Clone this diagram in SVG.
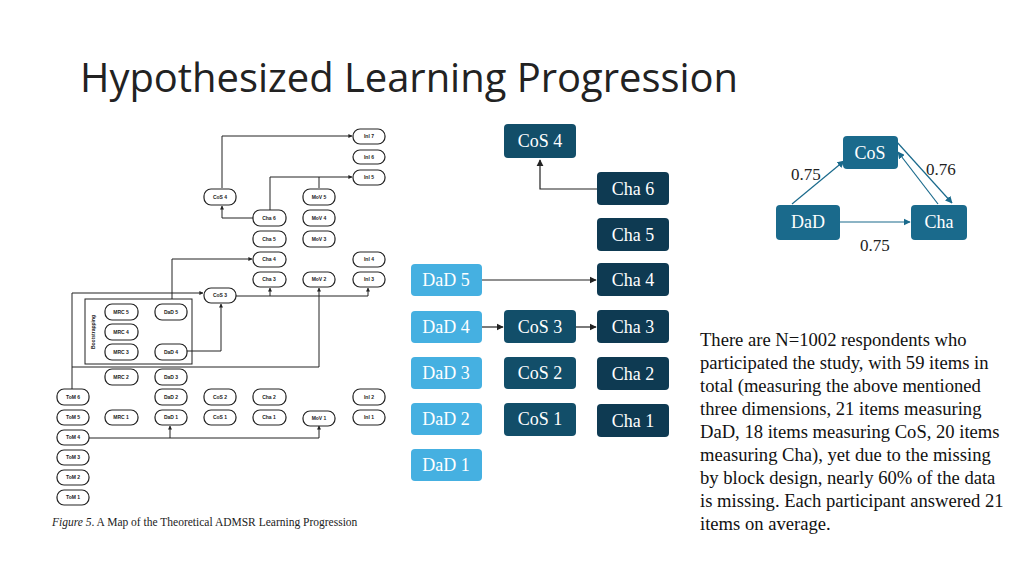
<svg xmlns="http://www.w3.org/2000/svg" width="1024" height="576" viewBox="0 0 1024 576">
<defs>
<style>
.t{font-family:"Liberation Serif",serif;fill:#fff;font-size:18px;text-anchor:middle}
.s{font-family:"Liberation Sans",sans-serif;font-size:5px;font-weight:bold;text-anchor:middle;fill:#222}
.sb rect{fill:#fff;stroke:#222;stroke-width:1.2}
.ln{fill:none;stroke:#222;stroke-width:1}
.bl{fill:none;stroke:#222;stroke-width:1.2}
.tl{fill:none;stroke:#1a6a8c;stroke-width:1.2}
.dad{fill:#45b0e1}.cos{fill:#124e69}.cha{fill:#0e3a52}.tri{fill:#1a6a8c}
</style>
<marker id="a" viewBox="0 0 10 10" refX="9" refY="5" markerWidth="6" markerHeight="6" orient="auto"><path d="M0,0L10,5L0,10z" fill="#222"/></marker>
<marker id="b" viewBox="0 0 10 10" refX="9" refY="5" markerWidth="4" markerHeight="4" orient="auto"><path d="M0,0L10,5L0,10z" fill="#222"/></marker>
<marker id="c" viewBox="0 0 10 10" refX="9" refY="5" markerWidth="6" markerHeight="6" orient="auto"><path d="M0,0L10,5L0,10z" fill="#1a6a8c"/></marker>
</defs>
<rect width="1024" height="576" fill="#fff"/>
<text x="80" y="92" font-family="Open Sans, sans-serif" font-size="40" fill="#222" textLength="658" lengthAdjust="spacingAndGlyphs">Hypothesized Learning Progression</text>

<g id="left-figure">
<g id="left-connectors">
<path class="ln" d="M222,188V136H352" marker-end="url(#b)"/>
<path class="ln" d="M253,218H222V206" marker-end="url(#b)"/>
<path class="ln" d="M270,210V177H352" marker-end="url(#b)"/>
<path class="ln" d="M319,188V177"/>
<path class="ln" d="M172,299V259H252" marker-end="url(#b)"/>
<path class="ln" d="M236,296H368V288" marker-end="url(#b)"/>
<path class="ln" d="M270,296V288" marker-end="url(#b)"/>
<path class="ln" d="M72,389V293H203" marker-end="url(#b)"/>
<path class="ln" d="M187,351H221V304" marker-end="url(#b)"/>
<path class="ln" d="M72,367H319V288" marker-end="url(#b)"/>
<path class="ln" d="M89,438H319V426" marker-end="url(#b)"/>
<path class="ln" d="M170,438V426" marker-end="url(#b)"/>
</g>
<rect x="85" y="299" width="107" height="65" fill="none" stroke="#222" stroke-width="1"/>
<text transform="translate(95,332) rotate(-90)" class="s" font-size="4.5">Bootstrapping</text>
<g class="sb">
<g id="l-inl7"><rect x="353" y="129" width="32" height="15" rx="7"/><text class="s" x="369" y="138">Inl 7</text></g>
<g id="l-inl6"><rect x="353" y="150" width="32" height="14" rx="7"/><text class="s" x="369" y="159">Inl 6</text></g>
<g id="l-inl5"><rect x="353" y="170" width="32" height="15" rx="7"/><text class="s" x="369" y="179">Inl 5</text></g>
<g id="l-cos4"><rect x="204" y="189" width="32" height="16" rx="7"/><text class="s" x="220" y="199">CoS 4</text></g>
<g id="l-mov5"><rect x="303" y="189" width="32" height="16" rx="7"/><text class="s" x="319" y="199">MoV 5</text></g>
<g id="l-cha6"><rect x="253" y="210" width="33" height="16" rx="7"/><text class="s" x="269" y="220">Cha 6</text></g>
<g id="l-mov4"><rect x="303" y="210" width="32" height="16" rx="7"/><text class="s" x="319" y="220">MoV 4</text></g>
<g id="l-cha5"><rect x="253" y="231" width="33" height="16" rx="7"/><text class="s" x="269" y="241">Cha 5</text></g>
<g id="l-mov3"><rect x="303" y="231" width="32" height="16" rx="7"/><text class="s" x="319" y="241">MoV 3</text></g>
<g id="l-cha4"><rect x="253" y="252" width="33" height="15" rx="7"/><text class="s" x="269" y="261">Cha 4</text></g>
<g id="l-inl4"><rect x="353" y="252" width="32" height="15" rx="7"/><text class="s" x="369" y="261">Inl 4</text></g>
<g id="l-cha3"><rect x="253" y="272" width="33" height="15" rx="7"/><text class="s" x="269" y="281">Cha 3</text></g>
<g id="l-mov2"><rect x="303" y="272" width="32" height="15" rx="7"/><text class="s" x="319" y="281">MoV 2</text></g>
<g id="l-inl3"><rect x="353" y="272" width="32" height="15" rx="7"/><text class="s" x="369" y="281">Inl 3</text></g>
<g id="l-cos3"><rect x="204" y="288" width="32" height="15" rx="7"/><text class="s" x="220" y="297">CoS 3</text></g>
<g id="l-mrc5"><rect x="105" y="304" width="33" height="16" rx="7"/><text class="s" x="121" y="314">MRC 5</text></g>
<g id="l-dad5"><rect x="155" y="304" width="32" height="16" rx="7"/><text class="s" x="171" y="314">DaD 5</text></g>
<g id="l-mrc4"><rect x="105" y="324" width="33" height="16" rx="7"/><text class="s" x="121" y="334">MRC 4</text></g>
<g id="l-mrc3"><rect x="105" y="344" width="33" height="16" rx="7"/><text class="s" x="121" y="354">MRC 3</text></g>
<g id="l-dad4"><rect x="155" y="344" width="32" height="16" rx="7"/><text class="s" x="171" y="354">DaD 4</text></g>
<g id="l-mrc2"><rect x="105" y="369" width="33" height="16" rx="7"/><text class="s" x="121" y="379">MRC 2</text></g>
<g id="l-dad3"><rect x="155" y="369" width="32" height="16" rx="7"/><text class="s" x="171" y="379">DaD 3</text></g>
<g id="l-tom6"><rect x="57" y="389" width="32" height="16" rx="7"/><text class="s" x="73" y="399">ToM 6</text></g>
<g id="l-dad2"><rect x="155" y="389" width="32" height="16" rx="7"/><text class="s" x="171" y="399">DaD 2</text></g>
<g id="l-cos2"><rect x="204" y="389" width="32" height="16" rx="7"/><text class="s" x="220" y="399">CoS 2</text></g>
<g id="l-cha2"><rect x="253" y="389" width="33" height="16" rx="7"/><text class="s" x="269" y="399">Cha 2</text></g>
<g id="l-inl2"><rect x="353" y="389" width="32" height="16" rx="7"/><text class="s" x="369" y="399">Inl 2</text></g>
<g id="l-tom5"><rect x="57" y="410" width="32" height="15" rx="7"/><text class="s" x="73" y="419">ToM 5</text></g>
<g id="l-mrc1"><rect x="105" y="410" width="33" height="15" rx="7"/><text class="s" x="121" y="419">MRC 1</text></g>
<g id="l-dad1"><rect x="155" y="410" width="32" height="15" rx="7"/><text class="s" x="171" y="419">DaD 1</text></g>
<g id="l-cos1"><rect x="204" y="410" width="32" height="15" rx="7"/><text class="s" x="220" y="419">CoS 1</text></g>
<g id="l-cha1"><rect x="253" y="410" width="33" height="15" rx="7"/><text class="s" x="269" y="419">Cha 1</text></g>
<g id="l-mov1"><rect x="303" y="411" width="32" height="15" rx="7"/><text class="s" x="319" y="420">MoV 1</text></g>
<g id="l-inl1"><rect x="353" y="410" width="32" height="15" rx="7"/><text class="s" x="369" y="419">Inl 1</text></g>
<g id="l-tom4"><rect x="57" y="430" width="32" height="15" rx="7"/><text class="s" x="73" y="439">ToM 4</text></g>
<g id="l-tom3"><rect x="57" y="450" width="32" height="15" rx="7"/><text class="s" x="73" y="459">ToM 3</text></g>
<g id="l-tom2"><rect x="57" y="470" width="32" height="15" rx="7"/><text class="s" x="73" y="479">ToM 2</text></g>
<g id="l-tom1"><rect x="57" y="490" width="32" height="15" rx="7"/><text class="s" x="73" y="499">ToM 1</text></g>
</g>
<text x="52" y="526" font-family="Liberation Serif, serif" font-size="11.5" fill="#222"><tspan font-style="italic">Figure 5</tspan>. A Map of the Theoretical ADMSR Learning Progression</text>
</g>

<g id="connectors">
<path class="bl" d="M597,189H540V160" marker-end="url(#a)"/>
<path class="bl" d="M482,280H596" marker-end="url(#a)"/>
<path class="bl" d="M482,327H503" marker-end="url(#a)"/>
<path class="bl" d="M576,327H596" marker-end="url(#a)"/>
<path class="tl" d="M792,204L844,161" marker-end="url(#c)"/>
<path class="tl" d="M840,222H910" marker-end="url(#c)"/>
<path class="tl" d="M896,141L952,203" marker-end="url(#c)"/>
<path class="tl" d="M938,204L898,152" marker-end="url(#c)"/>
</g>

<g id="cos4"><rect class="cos" x="504" y="124" width="72" height="34" rx="4"/><text class="t" x="540" y="147">CoS 4</text></g>
<g id="cha6"><rect class="cha" x="597" y="172" width="72" height="33" rx="4"/><text class="t" x="633" y="195">Cha 6</text></g>
<g id="cha5"><rect class="cha" x="597" y="218" width="72" height="33" rx="4"/><text class="t" x="633" y="241">Cha 5</text></g>
<g id="cha4"><rect class="cha" x="597" y="263" width="72" height="33" rx="4"/><text class="t" x="633" y="286">Cha 4</text></g>
<g id="cha3"><rect class="cha" x="597" y="310" width="72" height="33" rx="4"/><text class="t" x="633" y="333">Cha 3</text></g>
<g id="cha2"><rect class="cha" x="597" y="357" width="72" height="33" rx="4"/><text class="t" x="633" y="380">Cha 2</text></g>
<g id="cha1"><rect class="cha" x="597" y="404" width="72" height="33" rx="4"/><text class="t" x="633" y="427">Cha 1</text></g>
<g id="dad5"><rect class="dad" x="411" y="264" width="71" height="32" rx="4"/><text class="t" x="446" y="286">DaD 5</text></g>
<g id="dad4"><rect class="dad" x="411" y="311" width="71" height="32" rx="4"/><text class="t" x="446" y="333">DaD 4</text></g>
<g id="dad3"><rect class="dad" x="411" y="357" width="71" height="32" rx="4"/><text class="t" x="446" y="379">DaD 3</text></g>
<g id="dad2"><rect class="dad" x="411" y="403" width="71" height="32" rx="4"/><text class="t" x="446" y="425">DaD 2</text></g>
<g id="dad1"><rect class="dad" x="411" y="449" width="71" height="32" rx="4"/><text class="t" x="446" y="471">DaD 1</text></g>
<g id="cos3"><rect class="cos" x="504" y="310" width="72" height="33" rx="4"/><text class="t" x="540" y="333">CoS 3</text></g>
<g id="cos2"><rect class="cos" x="504" y="357" width="72" height="32" rx="4"/><text class="t" x="540" y="379">CoS 2</text></g>
<g id="cos1"><rect class="cos" x="504" y="403" width="72" height="33" rx="4"/><text class="t" x="540" y="425">CoS 1</text></g>

<g id="t-cos"><rect class="tri" x="843" y="136" width="55" height="33" rx="4"/><text class="t" x="870" y="159">CoS</text></g>
<g id="t-dad"><rect class="tri" x="776" y="205" width="64" height="35" rx="4"/><text class="t" x="808" y="228">DaD</text></g>
<g id="t-cha"><rect class="tri" x="911" y="205" width="56" height="35" rx="4"/><text class="t" x="939" y="228">Cha</text></g>
<g font-family="Liberation Serif, serif" font-size="17" fill="#222">
<text x="791" y="180">0.75</text>
<text x="926" y="175">0.76</text>
<text x="860" y="251">0.75</text>
</g>
<text font-family="Liberation Serif, serif" font-size="18.6" fill="#111" x="700">
<tspan x="700" y="346">There are N=1002 respondents who</tspan>
<tspan x="700" y="369">participated the study, with 59 items in</tspan>
<tspan x="700" y="392">total (measuring the above mentioned</tspan>
<tspan x="700" y="415">three dimensions, 21 items measuring</tspan>
<tspan x="700" y="438">DaD, 18 items measuring CoS, 20 items</tspan>
<tspan x="700" y="461">measuring Cha), yet due to the missing</tspan>
<tspan x="700" y="484">by block design, nearly 60% of the data</tspan>
<tspan x="700" y="507">is missing. Each participant answered 21</tspan>
<tspan x="700" y="530">items on average.</tspan>
</text>
</svg>
